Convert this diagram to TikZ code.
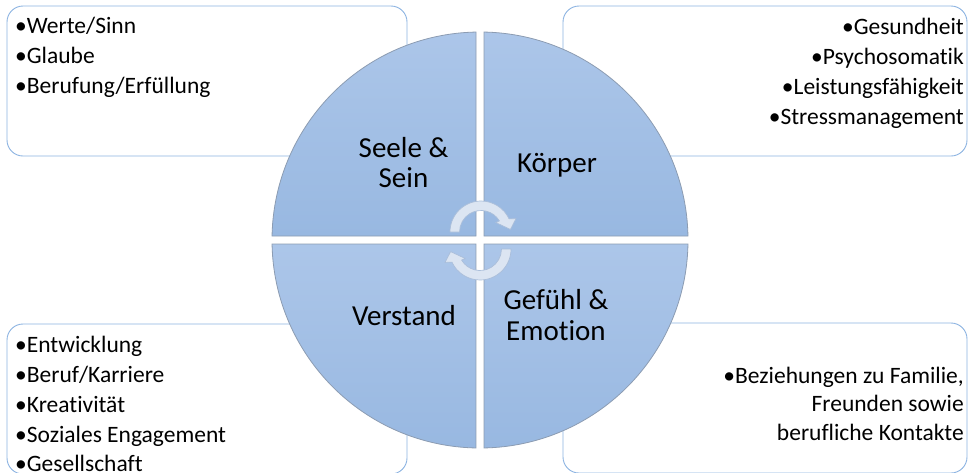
\documentclass[tikz,border=0pt]{standalone}
\usepackage{fontspec}
\setmainfont{Carlito}[Ligatures={NoCommon}]
\usetikzlibrary{calc}
\definecolor{boxline}{RGB}{141,180,226}
\definecolor{qtop}{RGB}{172,198,233}
\definecolor{qbot}{RGB}{152,184,225}
\definecolor{qline}{RGB}{140,156,178}
\definecolor{arrfill}{RGB}{220,229,242}
\definecolor{arrline}{RGB}{170,190,218}
\begin{document}
\begin{tikzpicture}[x=1pt,y=-1pt,
  cornerbox/.style={draw=boxline, line width=0.9pt, fill=white, rounded corners=16pt,
    minimum width=400pt, minimum height=150pt, inner sep=0pt, outer sep=0pt},
  item/.style={inner sep=0pt, font=\fontsize{23.5}{28}\selectfont, text=black},
  quad/.style={top color=qtop, bottom color=qbot, draw=qline, line width=0.8pt},
  qlabel/.style={inner sep=0pt, font=\fontsize{29}{30}\selectfont, anchor=base, text=black},
  cyc/.style={fill=arrfill, draw=arrline, line width=0.7pt, line join=round}]
\useasboundingbox (0,0) rectangle (968,472);
\fill[white] (0,0) rectangle (968,472);

% corner boxes
\node[cornerbox, anchor=north west] (btl) at (7,6) {};
\node[cornerbox, anchor=north west, minimum width=404pt] (btr) at (563,6) {};
\node[cornerbox, anchor=north west] (bbl) at (7,324) {};
\node[cornerbox, anchor=north west, minimum width=404pt] (bbr) at (563,323) {};

% top-left items
\node[item, anchor=base west] (t1) at (15,33) {•Werte/Sinn};
\node[item, anchor=base west] (t2) at (15,63) {•Glaube};
\node[item, anchor=base west] (t3) at (15,93) {•Berufung/Erfüllung};
% top-right items
\node[item, anchor=base east] (r1) at (964,34) {•Gesundheit};
\node[item, anchor=base east] (r2) at (964,64) {•Psychosomatik};
\node[item, anchor=base east] (r3) at (964,94) {•Leistungsfähigkeit};
\node[item, anchor=base east] (r4) at (964,124) {•Stressmanagement};
% bottom-left items
\node[item, anchor=base west] (l1) at (15,352) {•Entwicklung};
\node[item, anchor=base west] (l2) at (15,382) {•Beruf/Karriere};
\node[item, anchor=base west] (l3) at (15,412) {•Kreativität};
\node[item, anchor=base west] (l4) at (15,442) {•Soziales Engagement};
\node[item, anchor=base west] (l5) at (15,471) {•Gesellschaft};
% bottom-right items
\node[item, anchor=base east] (e1) at (964,383) {•Beziehungen zu Familie,};
\node[item, anchor=base east] (e2) at (964,411.5) {Freunden sowie};
\node[item, anchor=base east] (e3) at (964,440) {berufliche Kontakte};

% quadrants
\path[quad] (476,236) -- (476,32.04) arc[start angle=-91.10, end angle=-178.90, radius=208] -- cycle;
\path[quad] (484,236) -- (687.96,236) arc[start angle=-1.10, end angle=-88.90, radius=208] -- cycle;
\path[quad] (476,244) -- (272.04,244) arc[start angle=178.90, end angle=91.10, radius=208] -- cycle;
\path[quad] (484,244) -- (484,447.96) arc[start angle=88.90, end angle=1.10, radius=208] -- cycle;

% quadrant labels
\node[qlabel] (q1a) at (403.5,157) {Seele \&};
\node[qlabel] (q1b) at (403.5,187) {Sein};
\node[qlabel] (q2) at (557,172) {Körper};
\node[qlabel] (q3) at (404,325) {Verstand};
\node[qlabel] (q4a) at (556,309) {Gefühl \&};
\node[qlabel] (q4b) at (556,340) {Emotion};

% circular arrows
\coordinate (c1) at (481,232);
\coordinate (c2) at (480,249);
\path[cyc] ($(c1)+(-180:31)$) arc[start angle=-180, end angle=-25, radius=31]
  -- ($(c1)+(-21:37.5)$) -- ($(c1)+(-5:29.5)$) -- ($(c1)+(-33:17.5)$) -- ($(c1)+(-31:21.5)$)
  arc[start angle=-31, end angle=-180, radius=21.5] -- cycle;
\path[cyc] ($(c2)+(0:31)$) arc[start angle=0, end angle=155, radius=31]
  -- ($(c2)+(159:37.5)$) -- ($(c2)+(175:29.5)$) -- ($(c2)+(147:17.5)$) -- ($(c2)+(149:21.5)$)
  arc[start angle=149, end angle=0, radius=21.5] -- cycle;
\end{tikzpicture}
\end{document}
